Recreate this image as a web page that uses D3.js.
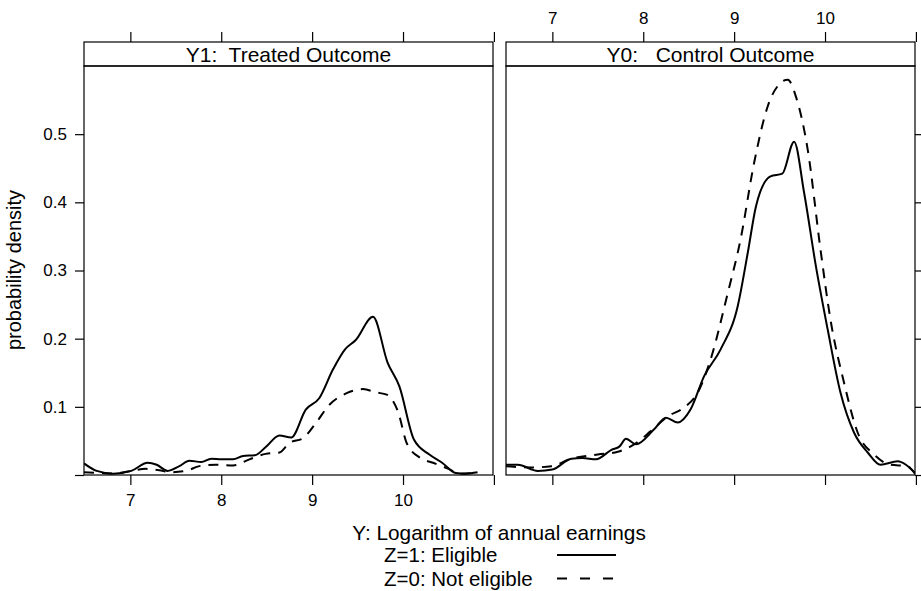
<!DOCTYPE html>
<html>
<head>
<meta charset="utf-8">
<script src="https://cdn.jsdelivr.net/npm/d3@7"></script>
<style>
  body { margin: 0; background: #fff; }
  svg { font-family: "Liberation Sans", Arial, Helvetica, sans-serif; }
  .tick text { font-size: 17px; fill: #000; }
  .domain { display: none; }
</style>
</head>
<body>
<svg id="chart" width="921" height="591"></svg>
<script>
// density estimates, [log earnings, density]
const y1Eligible = [
  [6.49,0.017],[6.63,0.006],[6.81,0.002],[7.01,0.006],[7.19,0.018],[7.29,0.015],[7.41,0.006],
  [7.54,0.013],[7.65,0.021],[7.78,0.019],[7.89,0.024],[8.0,0.023],[8.13,0.023],[8.24,0.028],
  [8.37,0.029],[8.49,0.041],[8.64,0.058],[8.77,0.055],[8.93,0.096],[9.08,0.113],[9.23,0.155],
  [9.36,0.184],[9.48,0.198],[9.67,0.232],[9.83,0.165],[9.96,0.130],[10.12,0.052],[10.29,0.030],
  [10.43,0.018],[10.58,0.003],[10.69,0.002],[10.82,0.004]
]
const y1NotEligible = [
  [6.49,0.004],[6.66,0.003],[6.82,0.002],[7.01,0.006],[7.17,0.009],[7.32,0.007],[7.43,0.004],
  [7.61,0.006],[7.76,0.013],[7.94,0.015],[8.13,0.014],[8.31,0.023],[8.49,0.031],[8.64,0.033],
  [8.75,0.047],[8.9,0.054],[9.04,0.076],[9.19,0.103],[9.38,0.120],[9.56,0.126],[9.71,0.121],
  [9.82,0.118],[9.95,0.091],[10.04,0.047],[10.19,0.025],[10.33,0.018],[10.5,0.009],[10.62,0.002],
  [10.8,0.003]
]
const y0Eligible = [
  [6.49,0.015],[6.62,0.015],[6.84,0.006],[7.0,0.008],[7.21,0.024],[7.33,0.025],[7.48,0.023],
  [7.65,0.037],[7.74,0.042],[7.81,0.053],[7.92,0.045],[8.12,0.067],[8.25,0.084],[8.38,0.077],
  [8.52,0.096],[8.67,0.145],[8.85,0.184],[9.04,0.248],[9.15,0.326],[9.24,0.394],[9.40,0.438],
  [9.53,0.442],[9.66,0.489],[9.77,0.414],[9.90,0.306],[10.03,0.213],[10.17,0.121],[10.32,0.062],
  [10.47,0.033],[10.61,0.015],[10.80,0.020],[10.89,0.015],[10.99,0.003]
]
const y0NotEligible = [
  [6.49,0.013],[6.77,0.011],[6.99,0.013],[7.21,0.024],[7.50,0.030],[7.72,0.034],[7.90,0.045],
  [8.08,0.064],[8.27,0.086],[8.45,0.099],[8.60,0.121],[8.74,0.169],[8.93,0.267],[9.07,0.345],
  [9.22,0.458],[9.37,0.541],[9.51,0.575],[9.59,0.580],[9.68,0.555],[9.81,0.477],[9.95,0.331],
  [10.06,0.228],[10.21,0.135],[10.36,0.062],[10.54,0.030],[10.72,0.015],[10.90,0.013],[10.99,0.002]
]

const xTicks = [7, 8, 9, 10, 11]
const xTickLabels = ["7", "8", "9", "10", ""]
const yTicks = [0, 0.1, 0.2, 0.3, 0.4, 0.5]
const yTickLabels = ["", "0.1", "0.2", "0.3", "0.4", "0.5"]

const panels = [
  { title: "Y1:  Treated Outcome", eligible: y1Eligible, notEligible: y1NotEligible },
  { title: "Y0:   Control Outcome", eligible: y0Eligible, notEligible: y0NotEligible }
]

const legendItems = [
  { label: "Z=1: Eligible", dash: null },
  { label: "Z=0: Not eligible", dash: "10,13" }
]

const svg = d3.select("#chart")
const panelW = 409, panelH = 409, stripH = 24
const panelLeft = [84, 506]
const plotTop = 66

const x = d3.scaleLinear().domain([6.49, 10.99]).range([0, panelW])
const y = d3.scaleLinear().domain([0, 0.6]).range([panelH, 0])

const xFmt = d => xTickLabels[xTicks.indexOf(d)]
const yFmt = d => yTickLabels[yTicks.findIndex(t => Math.abs(t - d) < 1e-9)]
const noLabel = () => ""

const line = d3.line()
  .x(d => x(d[0]))
  .y(d => y(d[1]))
  .curve(d3.curveMonotoneX)

panels.forEach((p, i) => {
  const g = svg.append("g").attr("transform", `translate(${panelLeft[i]},${plotTop})`)

  // axes
  g.append("g")
    .attr("transform", `translate(0,${panelH})`)
    .call(d3.axisBottom(x).tickValues(xTicks).tickSize(10).tickPadding(9).tickFormat(i == 0 ? xFmt : noLabel))
  g.append("g")
    .attr("transform", `translate(0,${-stripH})`)
    .call(d3.axisTop(x).tickValues(xTicks).tickSize(10).tickPadding(8).tickFormat(i == 1 ? xFmt : noLabel))
  if (i == 0) {
    g.append("g")
      .call(d3.axisLeft(y).tickValues(yTicks).tickSize(9).tickPadding(8).tickFormat(yFmt))
  } else {
    g.append("g")
      .attr("transform", `translate(${panelW},0)`)
      .call(d3.axisRight(y).tickValues(yTicks).tickSize(9).tickFormat(noLabel))
  }
  g.selectAll(".tick line").attr("stroke", "#000").attr("stroke-width", 1.2)

  // strip
  g.append("rect")
    .attr("x", 0).attr("y", -stripH)
    .attr("width", panelW).attr("height", stripH)
    .attr("fill", "#fff")
    .attr("stroke", "#000").attr("stroke-width", 1.2)
  g.append("text")
    .attr("x", panelW / 2).attr("y", -stripH / 2 + 7.5)
    .attr("text-anchor", "middle")
    .style("white-space", "pre")
    .attr("font-size", 21)
    .text(p.title)

  // curves
  const clipId = `clip${i}`
  g.append("clipPath").attr("id", clipId)
    .append("rect").attr("width", panelW).attr("height", panelH)
  g.append("path")
    .datum(p.eligible)
    .attr("clip-path", `url(#${clipId})`)
    .attr("d", line)
    .attr("fill", "none")
    .attr("stroke", "#000")
    .attr("stroke-width", 2)
  g.append("path")
    .datum(p.notEligible)
    .attr("clip-path", `url(#${clipId})`)
    .attr("d", line)
    .attr("fill", "none")
    .attr("stroke", "#000")
    .attr("stroke-width", 2)
    .attr("stroke-dasharray", "10,8")

  // panel border
  g.append("rect")
    .attr("width", panelW).attr("height", panelH)
    .attr("fill", "none")
    .attr("stroke", "#000").attr("stroke-width", 1.2)
})

// y title
svg.append("text")
  .attr("transform", "translate(21,270) rotate(-90)")
  .attr("text-anchor", "middle")
  .attr("font-size", 20)
  .text("probability density")

// x title
svg.append("text")
  .attr("x", 499).attr("y", 540)
  .attr("text-anchor", "middle")
  .attr("font-size", 20.8)
  .text("Y: Logarithm of annual earnings")

// legend
const legend = svg.append("g").attr("transform", "translate(384,562)")
legendItems.forEach((item, i) => {
  legend.append("text")
    .attr("x", 0).attr("y", i * 23.5)
    .attr("font-size", 20.5)
    .text(item.label)
  legend.append("line")
    .attr("x1", 173).attr("x2", 232)
    .attr("y1", i * 23.5 - 7).attr("y2", i * 23.5 - 7)
    .attr("stroke", "#000").attr("stroke-width", 2)
    .attr("stroke-dasharray", item.dash)
})
</script>
</body>
</html>
